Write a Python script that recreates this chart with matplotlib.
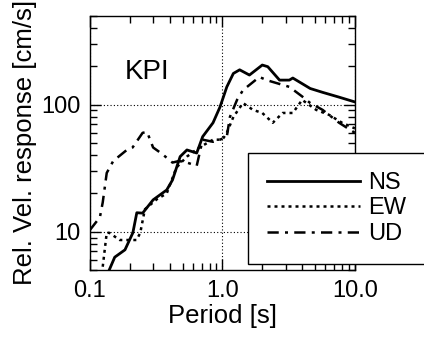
import matplotlib
matplotlib.use("Agg")
import matplotlib.pyplot as plt
from matplotlib.ticker import FixedLocator, FixedFormatter, LogLocator, NullFormatter

plt.rcParams['font.family'] = ['Liberation Sans', 'DejaVu Sans']

# period [s] and relative velocity response [cm/s]
ns_t = [0.14, 0.154, 0.184, 0.211, 0.226, 0.25, 0.30, 0.38, 0.42, 0.48, 0.54, 0.64,
        0.71, 0.85, 0.96, 1.08, 1.21, 1.35, 1.6, 2.0, 2.2, 2.7, 3.2, 3.4, 4.6, 5.7, 7.5, 10.0]
ns_v = [5.0, 6.3, 7.2, 9.8, 14.1, 14.0, 17.8, 21.3, 25.5, 39, 44, 41.6,
        56, 72, 96, 138, 176, 188, 171, 205, 199, 156, 156, 162, 134, 125, 115, 105]

ew_t = [0.125, 0.134, 0.14, 0.168, 0.225, 0.24, 0.26, 0.32, 0.38, 0.45, 0.54, 0.67,
        0.85, 1.0, 1.08, 1.21, 1.43, 1.7, 2.0, 2.4, 2.85, 3.4, 4.0, 5.1, 6.4, 8.0, 10.0]
ew_v = [5.3, 9.8, 9.8, 8.6, 8.6, 9.8, 15, 18, 20, 32, 39, 46,
        53, 53, 60, 80, 103, 91, 86, 72, 86, 86, 109, 91, 83, 72, 65]

ud_t = [0.1, 0.119, 0.125, 0.134, 0.15, 0.19, 0.21, 0.25, 0.27, 0.30, 0.35, 0.42,
        0.47, 0.54, 0.64, 0.71, 0.85, 0.96, 1.08, 1.14, 1.29, 1.43, 1.9, 2.2, 3.2, 4.0,
        4.6, 5.7, 7.6, 10.0]
ud_v = [10.3, 13, 17, 29, 36, 44, 46, 60, 61, 46, 41, 35,
        36, 35, 33, 53, 51, 53, 56, 80, 109, 130, 165, 155, 138, 116,
        103, 91, 72, 60]

fig = plt.figure(figsize=(4.24, 3.37), dpi=100)
ax = fig.add_axes([0.212, 0.199, 0.625, 0.754])

ax.plot(ns_t, ns_v, color='black', lw=2.0, ls='-', label='NS')
ax.plot(ew_t, ew_v, color='black', lw=1.8, ls=(0, (1.2, 1.6)), label='EW')
ax.plot(ud_t, ud_v, color='black', lw=1.8, ls=(0, (4.5, 2.5, 1.2, 2.5)), label='UD')

ax.set_xscale('log')
ax.set_yscale('log')
ax.set_xlim(0.1, 10.0)
ax.set_ylim(5, 500)

ax.xaxis.set_major_locator(FixedLocator([0.1, 1.0, 10.0]))
ax.xaxis.set_major_formatter(FixedFormatter(['0.1', '1.0', '10.0']))
ax.yaxis.set_major_locator(FixedLocator([10, 100]))
ax.yaxis.set_major_formatter(FixedFormatter(['10', '100']))
for a in (ax.xaxis, ax.yaxis):
    a.set_minor_locator(LogLocator(base=10, subs=range(2, 10)))
    a.set_minor_formatter(NullFormatter())

ax.tick_params(which='both', direction='in', top=True, right=True, labelsize=17,
               width=1.0, colors='black')
ax.tick_params(which='major', length=8, pad=7)
ax.tick_params(which='minor', length=5)

ax.grid(True, which='major', color='black', ls=(0, (1, 2)), lw=0.8)
for s in ax.spines.values():
    s.set_linewidth(1.0)

ax.set_xlabel('Period [s]', fontsize=18.5, labelpad=2)
ax.set_ylabel('Rel. Vel. response [cm/s]', fontsize=18.5, labelpad=3)

ax.text(0.13, 0.75, 'KPI', transform=ax.transAxes, fontsize=20)

leg = fig.legend(loc='upper left', bbox_to_anchor=(0.585, 0.546), fontsize=17,
                 handlelength=3.95, handletextpad=0.33, labelspacing=0.15,
                 borderpad=0.8, borderaxespad=0, fancybox=False, framealpha=1)
leg.get_frame().set_edgecolor('black')
leg.get_frame().set_linewidth(1.0)

fig.savefig('out.png', dpi=100)
